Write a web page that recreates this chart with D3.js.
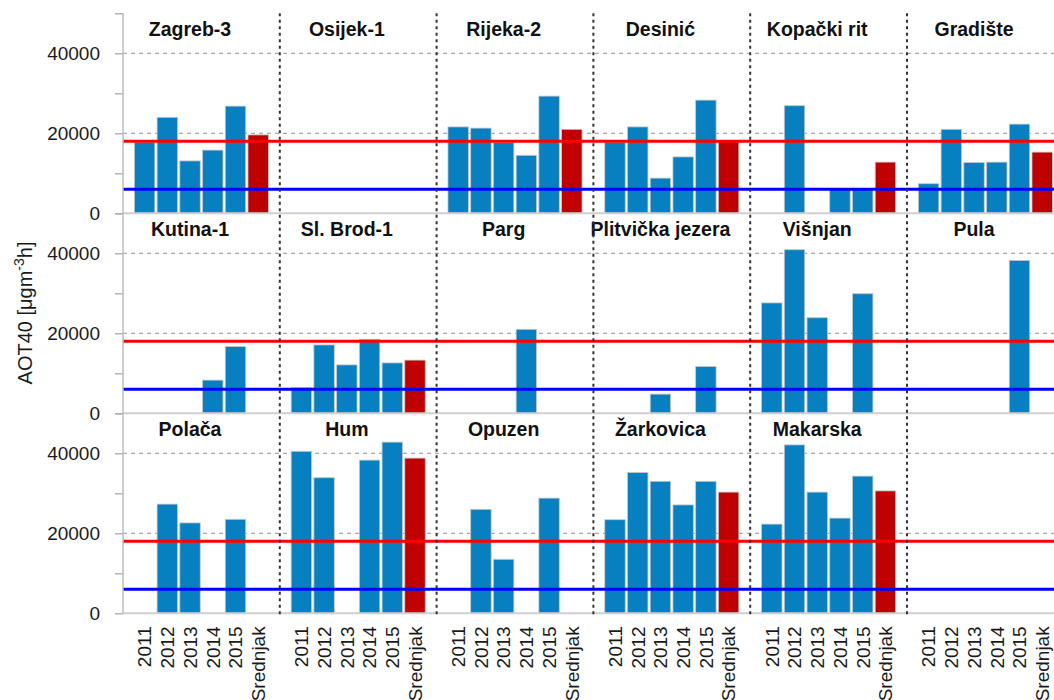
<!DOCTYPE html>
<html><head><meta charset="utf-8">
<script src="https://cdn.jsdelivr.net/npm/d3@7"></script>
<style>
body{margin:0;background:#fff}
text{font-family:Arial,"Liberation Sans",sans-serif}
</style>
</head><body>
<svg id="c" width="1054" height="700"></svg>
<script>
// ---- data ----
const categories = ["2011", "2012", "2013", "2014", "2015", "Srednjak"];
const stations = ["Zagreb-3", "Osijek-1", "Rijeka-2", "Desinić", "Kopački rit", "Gradište",
                  "Kutina-1", "Sl. Brod-1", "Parg", "Plitvička jezera", "Višnjan", "Pula",
                  "Polača", "Hum", "Opuzen", "Žarkovica", "Makarska", ""];
const zagreb3   = [17800, 24000, 13100, 15800, 26800, 19600];
const osijek1   = [null, null, null, null, null, null];
const rijeka2   = [21600, 21300, 17700, 14500, 29300, 21000];
const desinic   = [17800, 21600, 8800, 14100, 28300, 17900];
const kopacki   = [null, 26900, null, 6200, 6200, 12800];
const gradiste  = [7400, 21000, 12700, 12800, 22300, 15300];
const kutina1   = [null, null, null, 8300, 16700, null];
const slbrod1   = [6400, 17100, 12100, 18500, 12600, 13300];
const parg      = [null, null, null, 21000, null, null];
const plitvice  = [null, null, 4800, null, 11700, null];
const visnjan   = [27600, 40900, 23900, null, 29900, null];
const pula      = [null, null, null, null, 38200, null];
const polaca    = [null, 27300, 22600, null, 23500, null];
const hum       = [40500, 33900, null, 38300, 42800, 38800];
const opuzen    = [null, 26000, 13500, null, 28800, null];
const zarkovica = [23400, 35200, 33000, 27100, 33000, 30300];
const makarska  = [22300, 42100, 30300, 23800, 34300, 30600];
const emptyPanel = [null, null, null, null, null, null];
const seriesValues = [zagreb3, osijek1, rijeka2, desinic, kopacki, gradiste,
                      kutina1, slbrod1, parg, plitvice, visnjan, pula,
                      polaca, hum, opuzen, zarkovica, makarska, emptyPanel];
const yTicks = [0, 10000, 20000, 30000, 40000, 50000];
const yLabelTicks = [0, 20000, 40000];
const targetValue = 18000;
const longTermObjective = 6000;

// ---- layout ----
const svg = d3.select("#c");
const left = 123, colW = 156.8, rowH = 200, top0 = 13.3, ncols = 6, nrows = 3;
const rightEdge = 1054;
const y = d3.scaleLinear().domain([0, 50000]).range([rowH, 0]);
const x = d3.scaleBand().domain(categories).range([0, colW]).paddingInner(0.1).paddingOuter(0.5);
const blue = "#0680c0", red = "#c00000";

// grid per row
for (let r = 0; r < nrows; r++) {
  const g = svg.append("g").attr("transform", `translate(0,${top0 + r * rowH})`);
  g.selectAll("line.grid").data([20000, 40000]).join("line")
    .attr("x1", left).attr("x2", rightEdge)
    .attr("y1", d => y(d)).attr("y2", d => y(d))
    .attr("stroke", "#a8a8a8").attr("stroke-width", 1.3).attr("stroke-dasharray", "4,4");
}

// bars + titles
stations.forEach((st, i) => {
  const col = i % ncols, row = Math.floor(i / ncols);
  const g = svg.append("g").attr("transform", `translate(${left + col * colW},${top0 + row * rowH})`);
  const vals = seriesValues[i];
  const data = categories.map((c, k) => ({c, v: vals[k]})).filter(d => d.v != null);
  g.selectAll("rect").data(data).join("rect")
    .attr("x", d => x(d.c)).attr("width", x.bandwidth())
    .attr("y", d => y(d.v)).attr("height", d => y(0) - y(d.v))
    .attr("fill", d => d.c === "Srednjak" ? red : blue)
    .attr("stroke", "#c8c8c8").attr("stroke-width", 0.8);
  if (st) {
    g.append("text")
      .attr("x", x("2013") + x.bandwidth() / 2).attr("y", 23)
      .attr("text-anchor", "middle").attr("font-size", "19.5px").attr("font-weight", "bold")
      .attr("fill", "#111").text(st);
  }
});

// baselines, threshold lines, axis
for (let r = 0; r < nrows; r++) {
  const g = svg.append("g").attr("transform", `translate(0,${top0 + r * rowH})`);
  g.append("line").attr("x1", left).attr("x2", rightEdge).attr("y1", y(0)).attr("y2", y(0))
    .attr("stroke", "#cfcfcf").attr("stroke-width", 2);
  g.append("line").attr("x1", left).attr("x2", rightEdge)
    .attr("y1", y(targetValue)).attr("y2", y(targetValue))
    .attr("stroke", "#ff0000").attr("stroke-width", 3);
  g.append("line").attr("x1", left).attr("x2", rightEdge)
    .attr("y1", y(longTermObjective)).attr("y2", y(longTermObjective))
    .attr("stroke", "#0000ff").attr("stroke-width", 3);
  const ax = g.append("g").attr("transform", `translate(${left},0)`)
    .call(d3.axisLeft(y).tickValues(yTicks).tickSize(8).tickPadding(15)
      .tickFormat(d => yLabelTicks.includes(d) ? d : ""));
  ax.select(".domain").remove();
  ax.selectAll(".tick line").attr("stroke", "#aaaaaa").attr("stroke-width", 1.3);
  ax.selectAll(".tick text").attr("font-size", "19px").attr("fill", "#1a1a1a")
    .attr("font-family", "Arial, 'Liberation Sans', sans-serif");
}
svg.append("line").attr("x1", left).attr("x2", left).attr("y1", top0).attr("y2", top0 + nrows * rowH)
  .attr("stroke", "#bdbdbd").attr("stroke-width", 1.5);

// dotted separators
svg.selectAll("line.sep").data(d3.range(1, ncols)).join("line")
  .attr("x1", d => left + d * colW).attr("x2", d => left + d * colW)
  .attr("y1", top0).attr("y2", top0 + nrows * rowH + 1)
  .attr("stroke", "#333").attr("stroke-width", 2).attr("stroke-dasharray", "3,3.5");

// x labels on bottom row
for (let c = 0; c < ncols; c++) {
  const g = svg.append("g").attr("transform", `translate(${left + c * colW},${top0 + nrows * rowH})`);
  g.selectAll("text").data(categories).join("text")
    .attr("transform", d => `translate(${x(d) + x.bandwidth() / 2},13) rotate(-90)`)
    .attr("text-anchor", "end").attr("dy", "0.36em")
    .attr("font-size", "19px").attr("fill", "#1a1a1a").text(d => d);
}

// y title
const yt = svg.append("text").attr("transform", "translate(32,313) rotate(-90)")
  .attr("text-anchor", "middle").attr("font-size", "20px").attr("fill", "#1a1a1a");
yt.append("tspan").text("AOT40 [μgm");
yt.append("tspan").attr("font-size", "14px").attr("dy", "-8").text("-3");
yt.append("tspan").attr("dy", "8").text("h]");
</script>
</body></html>
